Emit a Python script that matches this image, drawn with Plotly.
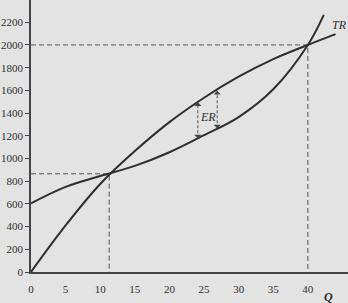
import plotly.graph_objects as go

# ---- data ----
tr_q = [0, 5, 10, 15, 20, 25, 30, 35, 40, 44]
tr_vals = [0, 410, 775, 1065, 1320, 1535, 1720, 1875, 2000, 2095]

tc_q = [0, 5, 10, 15, 20, 25, 30, 35, 40, 42.3]
tc_vals = [605, 750, 845, 935, 1055, 1205, 1365, 1610, 2000, 2265]

eq_q = [11.3, 40]          # intersection points (break-even outputs)
eq_vals = [865, 2000]

er_q = [24.1, 26.9]        # ER arrow positions
er_top = [1495, 1595]
er_bottom = [1178, 1266]

x_ticks = [0, 5, 10, 15, 20, 25, 30, 35, 40]
y_ticks = [0, 200, 400, 600, 800, 1000, 1200, 1400, 1600, 1800, 2000, 2200]

BG = "#e3e3e3"
INK = "#2e2e2e"
FONT = "Liberation Serif"

fig = go.Figure()

# dashed guide lines
for q, v in zip(eq_q, eq_vals):
    fig.add_trace(go.Scatter(x=[0, q, q], y=[v, v, 0], mode="lines",
                             line=dict(color="#555", width=1, dash="5px,3px"),
                             hoverinfo="skip", showlegend=False))

# ER dashed shafts
for q, t, b in zip(er_q, er_top, er_bottom):
    fig.add_trace(go.Scatter(x=[q, q], y=[b, t], mode="lines",
                             line=dict(color="#555", width=1, dash="3px,2px"),
                             hoverinfo="skip", showlegend=False))

# curves
fig.add_trace(go.Scatter(x=tr_q, y=tr_vals, mode="lines", line_shape="spline",
                         line=dict(color=INK, width=2), showlegend=False))
fig.add_trace(go.Scatter(x=tc_q, y=tc_vals, mode="lines", line_shape="spline",
                         line=dict(color=INK, width=2), showlegend=False))

# arrowheads for ER
for q, t, b in zip(er_q, er_top, er_bottom):
    fig.add_annotation(x=q, y=t, ax=0, ay=4, xref="x", yref="y", text="",
                       showarrow=True, arrowhead=1, arrowsize=1.2,
                       arrowwidth=1, arrowcolor="#444")
    fig.add_annotation(x=q, y=b, ax=0, ay=-4, xref="x", yref="y", text="",
                       showarrow=True, arrowhead=1, arrowsize=1.2,
                       arrowwidth=1, arrowcolor="#444")

fig.add_annotation(x=25.5, y=1366, text="<i>ER</i>", showarrow=False,
                   font=dict(family=FONT, size=12, color=INK))
fig.add_annotation(x=44.6, y=2176, text="<i>TR</i>", showarrow=False,
                   font=dict(family=FONT, size=12, color=INK))
fig.add_annotation(x=43.0, y=-0.125, xref="x", yref="paper", text="<i><b>Q</b></i>",
                   showarrow=False, font=dict(family=FONT, size=12, color=INK))

fig.update_layout(
    width=348, height=303,
    margin=dict(l=31, r=0, t=0, b=31),
    paper_bgcolor=BG, plot_bgcolor=BG,
    font=dict(family=FONT, size=11, color=INK),
    xaxis=dict(range=[0, 45.8], tickvals=x_ticks, ticktext=[str(v) for v in x_ticks],
               showgrid=False, zeroline=False, showline=True, linecolor="#444",
               linewidth=1.5, ticks="", ticklabelstandoff=6,
               tickfont=dict(family=FONT, size=11, color=INK)),
    yaxis=dict(range=[0, 2396], tickvals=y_ticks, ticktext=[str(v) for v in y_ticks],
               showgrid=False, zeroline=False, showline=True, linecolor="#444",
               linewidth=1.5, ticks="outside", ticklen=4, tickcolor="#444",
               tickfont=dict(family=FONT, size=11, color=INK)),
)

fig.write_html("out.html")
